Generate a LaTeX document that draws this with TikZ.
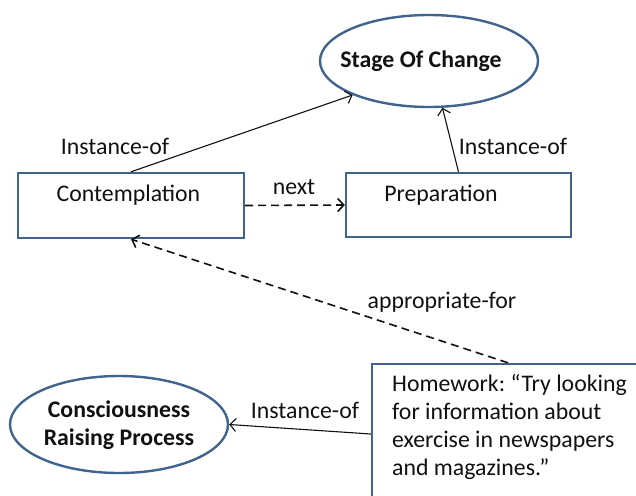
\documentclass[tikz,border=0pt]{standalone}
\usepackage{fontspec}
\setmainfont{Carlito}
\usetikzlibrary{shapes.geometric,arrows.meta}
\definecolor{boxblue}{HTML}{41648F}
\definecolor{ink}{HTML}{111111}
\frenchspacing
\begin{document}
\begin{tikzpicture}[x=1pt,y=-1pt,
  txt/.style={font=\fontsize{23.8}{28}\selectfont, text=ink, inner sep=0},
  btxt/.style={font=\fontsize{23.8}{28}\selectfont\bfseries, text=ink, inner sep=0, align=center},
  concept/.style={ellipse, draw=boxblue, line width=2.4pt, fill=white, inner sep=0},
  rbox/.style={rectangle, draw=boxblue, line width=2.4pt, fill=white, inner sep=0},
  rel/.style={draw=ink, line width=1.1pt, -{Straight Barb[length=6pt,width=13pt]}},
  drel/.style={rel, line width=1.6pt, dash pattern=on 8pt off 5pt},
]
\useasboundingbox (0,0) rectangle (636,495);
\clip (0,0) rectangle (636,495);
% nodes
\node[concept, minimum width=218, minimum height=92] (soc) at (429,61) {};
\node[btxt] (socT) at (421,61) {Stage Of Change};
\node[rbox, minimum width=226, minimum height=65] (cont) at (131,205.5) {};
\node[txt] (contT) at (128.5,195) {Contemplation};
\node[rbox, minimum width=225, minimum height=64] (prep) at (458.5,205) {};
\node[txt] (prepT) at (441,195) {Preparation};
\node[concept, minimum width=218, minimum height=97] (crp) at (119,424.5) {};
\node[btxt] (crpT) at (119,425) {Consciousness\\Raising Process};
\node[rbox, minimum width=272, minimum height=140] (hw) at (508,434) {};
\node[txt, anchor=west, align=left] (hwT) at (392,427) {Homework: “Try looking\\for information about\\exercise in newspapers\\and magazines.”};
% connectors
\draw[rel] (cont.north) -- (soc.204);
\draw[rel] (prep.north) -- (soc.286);
\draw[drel] (cont.east) -- (prep.west);
\draw[drel] (hw.north) -- (cont.south);
\draw[rel] (hw.west) -- (crp.east);
% labels
\node[txt] (l1) at (115,146) {Instance-of};
\node[txt] (l2) at (513,146) {Instance-of};
\node[txt] (l3) at (294,187) {next};
\node[txt] (l4) at (442,302) {appropriate-for};
\node[txt] (l5) at (305,410) {Instance-of};
\end{tikzpicture}
\end{document}
